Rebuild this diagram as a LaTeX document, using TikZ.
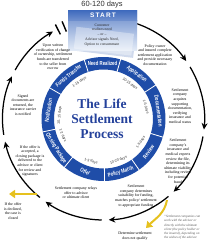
\documentclass[tikz,border=0pt]{standalone}
\usepackage{fontspec}
\setmainfont{Liberation Serif}
\setsansfont{Liberation Sans}
\newfontfamily\ringfont[FakeStretch=0.75]{Liberation Sans}
\newfontfamily\startfont[LetterSpace=18]{Liberation Sans}
\usetikzlibrary{arrows.meta}
\definecolor{ringblue}{HTML}{1F4DA8}
\definecolor{titleblue}{HTML}{24419B}
\definecolor{gold}{HTML}{E6C11E}
\definecolor{daygray}{HTML}{333333}
\definecolor{boxtop}{HTML}{3D69BD}
\definecolor{boxlight}{HTML}{E2EAF6}
\definecolor{notegray}{HTML}{555555}
\begin{document}
\begin{tikzpicture}[x=1pt,y=-1pt,
  ringtext/.style={font=\ringfont\bfseries\fontsize{5.8}{6}\selectfont, text=white, inner sep=0pt},
  daytext/.style={font=\sffamily\fontsize{3.6}{4}\selectfont, text=daygray, inner sep=0pt},
  note/.style={font=\fontsize{3.9}{4.6}\selectfont, align=center, text=black, inner sep=0pt},
  cyc/.style={draw=black, line width=1.25pt, -{Stealth[length=6.5pt,width=6pt]}},
  yel/.style={draw=gold, line width=2pt, -{Triangle[length=6pt,width=8pt]}},
]
\useasboundingbox[fill=white] (0,0) rectangle (209,241);

% outer cycle arrows and ring
\begin{scope}[shift={(103.5,119)}]
  \foreach \sa/\sb in {72/35, 31/-6, -10/-46, -50/-87, -91/-125, -129/-167, -171/-205, -209/-240}
    \draw[cyc] (\sa:101pt) arc[start angle=\sa, end angle=\sb, radius=101pt];
  \draw[line width=1.4pt] (117:95pt) -- (117:106pt);
  \draw[line width=1.4pt] (113:95pt) -- (113:106pt);

  \foreach \sa/\sb/\lab/\rot/\nm in {108/74/Need Realized/1/need, 74/33/Application/-36.5/app,
      33/-17/Documentation/-82/doc, -17/-55/Review/54/rev, -55/-89/Policy Match/18/pm,
      -89/-129/Offer/-19/off, -129/-168/Closing Package/-58.5/cp, 192/150/Notification/81/notif,
      150/108/Funds Transfer/39/ft}
  {
    \fill[ringblue] (\sa:62pt) arc[start angle=\sa,end angle=\sb,radius=62pt]
      -- (\sb:49.5pt) arc[start angle=\sb,end angle=\sa,radius=49.5pt] -- cycle;
    \pgfmathsetmacro\segm{(\sa+\sb)/2}
    \node[ringtext, rotate=\rot] (\nm) at (\segm:55.75pt) {\lab};
  }
  \foreach \d in {108,74,33,-17,-55,-89,-129,-168,150}
    \draw[white,line width=0.8pt] (\d:49pt) -- (\d:62.5pt);

  \foreach \ang/\rot/\lab/\nm in {123/33/1-15 days/dft, 53/-37/10-15 days/dapp, 16/-74/1-5 days/ddoc,
      -32/58/1-5 days/drev, -70/20/10-20 days/dpm, -106.5/-16.5/1-3 days/doff,
      -158/-68/1-2 days/dcp, 175/85/10-15 days/dnot}
    \node[daytext, rotate=\rot] (\nm) at (\ang:44pt) {\lab};
\end{scope}

% title
\node[font=\bfseries\fontsize{13.5}{15}\selectfont, text=titleblue, align=center] (title) at (102,119) {The Life\\Settlement\\Process};

% START box
\fill[ringblue!30, opacity=0.7, rotate around={-7:(103,32)}] (72,16) rectangle (136,54);
\shade[top color=boxtop!80, bottom color=boxlight] (68,10) rectangle (137,50);
\shade[top color=boxtop, bottom color=boxtop!75] (68,10) rectangle (137,20);
\fill[white, opacity=0.35, rotate around={-7:(103,32)}] (76,30) rectangle (134,52);
\node[font=\startfont\bfseries\fontsize{6.5}{7}\selectfont, text=white] (start) at (103,15) {START};
\node[font=\fontsize{3.8}{4.9}\selectfont, align=center, text=black!85] (startbody) at (102,35)
  {Customer\\realizes need\\– or –\\Advisor signals Need,\\Option to consummate};
\node[font=\sffamily\fontsize{7.5}{8}\selectfont, text=daygray] (span) at (102,5) {60-120 days};

% yellow arrows
\coordinate (y1s) at (37,194);
\coordinate (y1e) at (9,194);
\draw[yel] (y1s) -- (y1e);
\coordinate (y2s) at (167,200);
\coordinate (y2e) at (146,228);
\draw[yel] (y2s) to[out=-100,in=45] (y2e);

% notes
\node[note] (upon) at (53,57) {Upon written\\verification of change\\of ownership, settlement\\funds are transferred\\to the seller from\\escrow};
\node[note] (polapp) at (155,55) {Policy owner\\and insured complete\\settlement application\\and provide necessary\\documentation};
\node[note] (acq) at (180,106) {Settlement\\company\\acquires\\supporting\\documentation,\\verifying\\insurance and\\medical status};
\node[note] (medrev) at (178,161) {Settlement\\company's\\insurance and\\medical experts\\review the file,\\determining its\\ultimate viability,\\including review\\for potential\\fraud};
\node[note] (suit) at (136,196) {Settlement\\company determines\\suitability for funding,\\matches policy/ settlement\\to appropriate funding};
\node[note] (relay) at (76,193) {Settlement company relays\\offer to advisor\\or ultimate client};
\node[note] (accept) at (30,161) {If the offer is\\accepted, a\\closing package is\\delivered to the\\advisor or client\\for review and\\signatures};
\node[note] (signed) at (23,105) {Signed\\documents are\\returned, the\\insurance carrier\\is notified};
\node[note] (declined) at (13,211) {If the offer\\is declined,\\the case is\\closed};
\node[note] (noqual) at (135,236) {Determine settlement\\does not qualify};
\node[font=\itshape\fontsize{3.3}{4.3}\selectfont, align=left, text=notegray, inner sep=0pt, anchor=north west] (remark) at (164,215)
  {“Settlement companies can\\work with the advisor or\\directly with the ultimate\\client (the policy holder or\\the insured), depending on\\the wishes of the advisor.};
\end{tikzpicture}
\end{document}
